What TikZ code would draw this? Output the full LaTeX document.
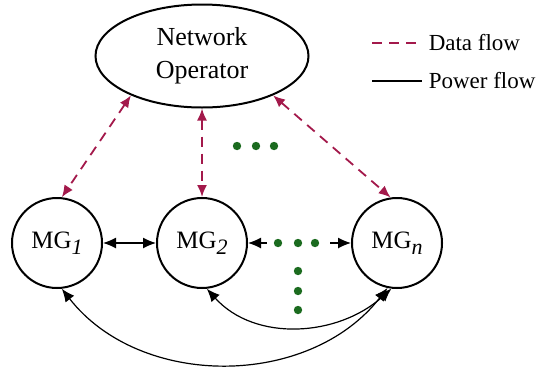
\documentclass[tikz,border=0pt]{standalone}
\usepackage{fontspec}
\setmainfont{Liberation Serif}
\usepackage{xcolor}
\usepackage{tikz}
\usetikzlibrary{shapes.geometric, arrows.meta, positioning}
\definecolor{DataRed}{HTML}{A3194B}
\definecolor{DotGreen}{HTML}{1B6B1F}
\newcommand{\mgsub}[1]{MG\raisebox{-0.5ex}{\fontsize{11}{12}\selectfont\textit{#1}}}

\begin{document}
\begin{tikzpicture}[
    x=0.5pt, y=-0.5pt,
    node distance=26.5pt,
    operator/.style={ellipse, draw, line width=1pt, minimum width=106.5pt, minimum height=51.5pt,
                     align=center, font=\fontsize{13}{16.5}\selectfont},
    grid/.style={circle, draw, line width=1pt, minimum size=45pt, inner sep=0pt,
                 font=\fontsize{12.5}{14}\selectfont},
    dataarrow/.style={{Latex[length=6pt,width=5pt]}-{Latex[length=6pt,width=5pt]}, line width=0.9pt,
                      color=DataRed, dash pattern=on 5pt off 3.5pt},
    powerarrow/.style={{Latex[length=6.5pt,width=5.5pt]}-{Latex[length=6.5pt,width=5.5pt]}, line width=0.6pt},
    legend/.style={font=\fontsize{11.5}{14}\selectfont, anchor=west, inner sep=0pt}
]
\useasboundingbox (0,0) rectangle (544,370);

\node[operator] (no) at (202,56) {Network\\Operator};
\node[grid] (mg1) at (57,243) {\mgsub{1}};
\node[grid, right=of mg1] (mg2) {\mgsub{2}};
\node[grid, right=51.5pt of mg2] (mgn) {\mgsub{n}};

% data flow
\draw[dataarrow] (no.209) -- (mg1.84);
\draw[dataarrow] (no.south) -- (mg2.north);
\draw[dataarrow] (no.331) -- (mgn.98);

% power flow
\coordinate (d1) at (267,243);
\coordinate (d2) at (330,243);
\draw[powerarrow] (mg1.east) -- (mg2.west);
\draw[powerarrow, {Latex[length=6.5pt,width=5.5pt]}-] (mg2.east) -- (d1);
\draw[powerarrow, -{Latex[length=6.5pt,width=5.5pt]}] (d2) -- (mgn.west);
\draw[powerarrow] (mg2.276) to[out=-48, in=-138] (mgn.263);
\draw[powerarrow] (mg1.276) to[out=-52, in=-128] (mgn.258);

% more grids
\foreach \x in {237,256,274} \fill[DotGreen] (\x,146) circle (2.1pt);
\foreach \x in {278,298,315} \fill[DotGreen] (\x,243) circle (2.1pt);
\foreach \y in {271,291,310} \fill[DotGreen] (298,\y) circle (2.1pt);

% legend
\coordinate (l1) at (372,43);
\coordinate (l2) at (372,81);
\draw[DataRed, line width=0.75pt, dash pattern=on 5pt off 3.5pt] (l1) -- ++(50,0) node[legend, black, right=3pt] (ldata) {Data flow};
\draw[line width=0.75pt] (l2) -- ++(50,0) node[legend, right=3pt] (lpower) {Power flow};

\end{tikzpicture}
\end{document}
